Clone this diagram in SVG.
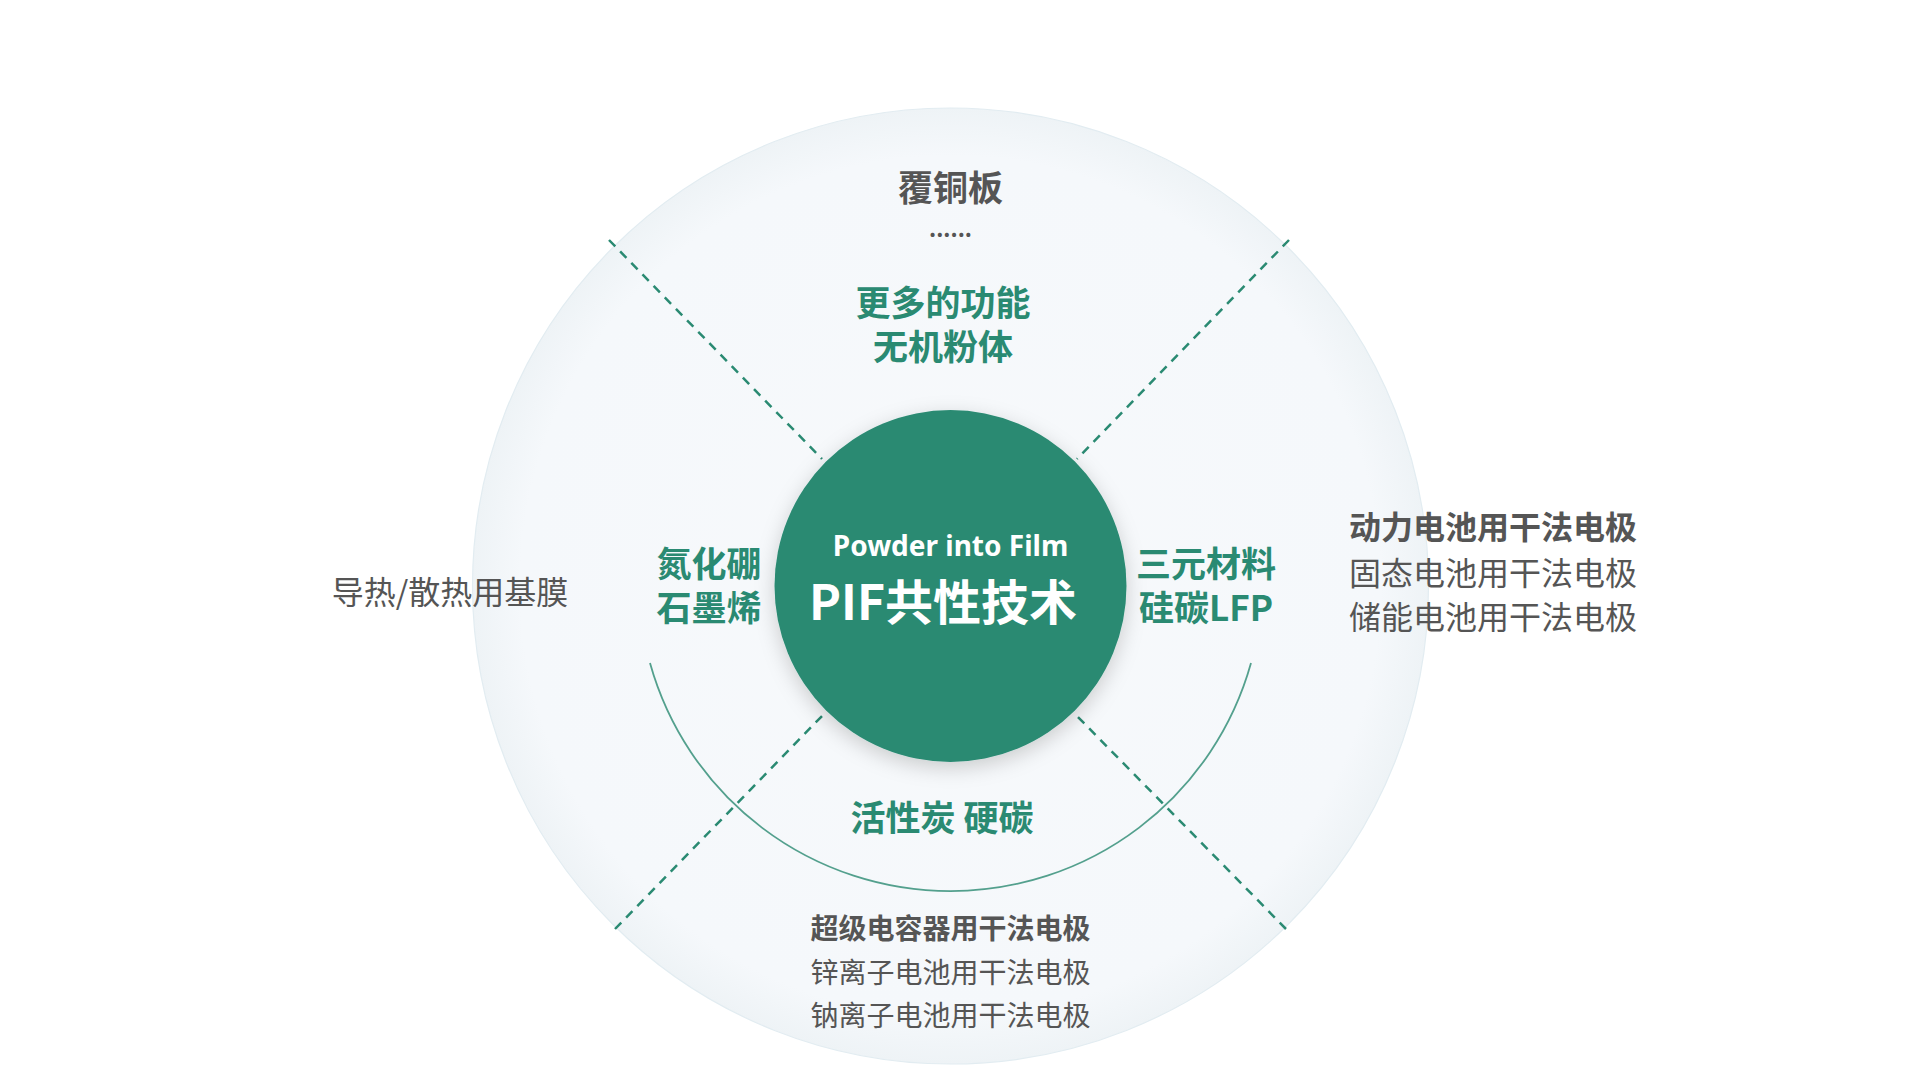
<svg xmlns="http://www.w3.org/2000/svg" width="1919" height="1079" viewBox="0 0 1919 1079">
<defs>
<radialGradient id="bg" cx="0.5" cy="0.5" r="0.5">
<stop offset="0" stop-color="#f7f9fb"/><stop offset="0.9" stop-color="#f5f8fb"/><stop offset="1" stop-color="#eef3f6"/>
</radialGradient>
<filter id="sh" x="-30%" y="-30%" width="160%" height="160%"><feDropShadow dx="0" dy="6" stdDeviation="10" flood-color="#000" flood-opacity="0.18"/></filter>
<style>
.g{fill:#2a8a72;font-family:"Noto Sans CJK SC","Noto Sans",sans-serif;font-weight:700;font-size:35px;text-anchor:middle}
.d{fill:#555;font-family:"Noto Sans CJK SC","Noto Sans",sans-serif;font-size:28px;text-anchor:middle}
.b{font-weight:700}
.dash{stroke:#2a8a72;stroke-width:2.5;stroke-dasharray:9 7;fill:none}
</style>
</defs>
<rect width="1919" height="1079" fill="#fff"/>
<g transform="translate(-9,-5)">
<g id="outer"><circle cx="959.5" cy="591" r="478" fill="url(#bg)" stroke="#e2ecf1" stroke-width="1.2"/></g>
<g id="connectors">
<path d="M659 668 A312 312 0 0 0 1260 668" fill="none" stroke="#2a8a72" stroke-width="1.8" opacity="0.8"/>
<line class="dash" x1="618" y1="245" x2="831" y2="464"/>
<line class="dash" x1="1298" y1="245" x2="1086" y2="464"/>
<line class="dash" x1="624" y1="934" x2="831" y2="721"/>
<line class="dash" x1="1295" y1="934" x2="1086" y2="721"/>
</g>
<g id="center">
<circle cx="959.5" cy="591" r="176" fill="#2a8a72" filter="url(#sh)"/>
<text x="959.5" y="561" fill="#fff" font-family="'Noto Sans','Noto Sans CJK SC',sans-serif" font-weight="700" font-size="28" text-anchor="middle">Powder into Film</text>
<text x="952" y="625" fill="#fff" font-family="'Noto Sans CJK SC','Noto Sans',sans-serif" font-weight="700" font-size="48" text-anchor="middle">PIF共性技术</text>
</g>
<g id="top">
<text class="d b" x="959.5" y="206" style="font-size:35px">覆铜板</text>
<text class="d b" x="959.5" y="242" style="font-size:22px">......</text>
<text class="g" x="952" y="321">更多的功能</text>
<text class="g" x="952" y="365">无机粉体</text>
</g>
<g id="left">
<text class="g" x="718" y="582">氮化硼</text>
<text class="g" x="718" y="626">石墨烯</text>
<text class="d" x="459" y="609" style="font-size:32px">导热/散热用基膜</text>
</g>
<g id="right">
<text class="g" x="1215" y="582">三元材料</text>
<text class="g" x="1215" y="626">硅碳LFP</text>
<text class="d b" x="1502" y="544" style="font-size:32px">动力电池用干法电极</text>
<text class="d" x="1502" y="590" style="font-size:32px">固态电池用干法电极</text>
<text class="d" x="1502" y="634" style="font-size:32px">储能电池用干法电极</text>
</g>
<g id="bottom">
<text class="g" x="951" y="836">活性炭 硬碳</text>
<text class="d b" x="959.5" y="944">超级电容器用干法电极</text>
<text class="d" x="959.5" y="988">锌离子电池用干法电极</text>
<text class="d" x="959.5" y="1031">钠离子电池用干法电极</text>
</g>
</g>
</svg>
